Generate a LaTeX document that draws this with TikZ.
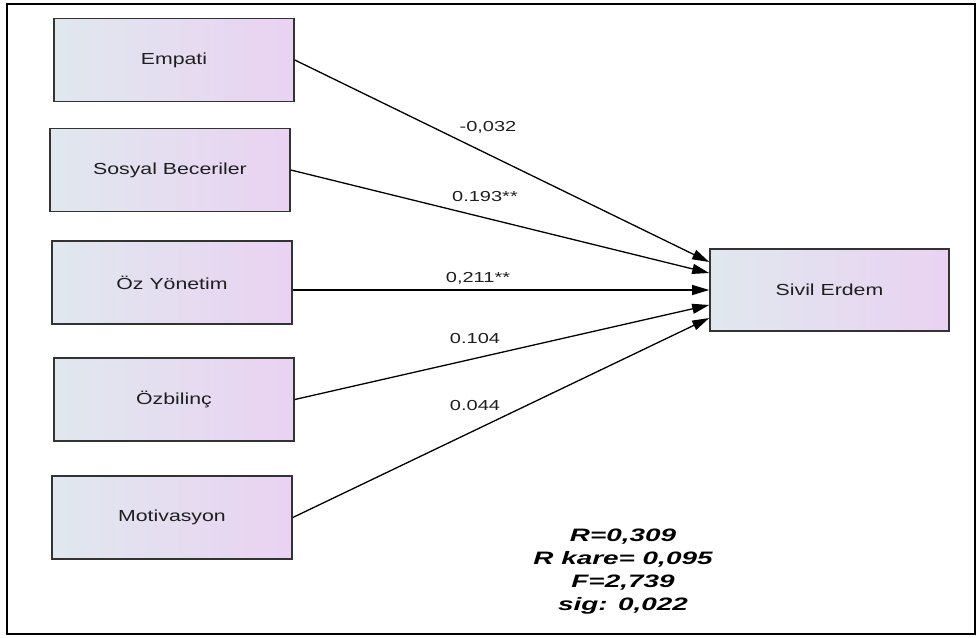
\documentclass[tikz,border=0pt]{standalone}
\usepackage{fontspec}
\setmainfont{Liberation Sans}
\newfontfamily\boxfont[FakeStretch=1.33]{Liberation Sans}
\newfontfamily\coeffont[FakeStretch=1.38]{Liberation Sans}
\newfontfamily\statfont[FakeStretch=1.55]{Liberation Sans}
\usetikzlibrary{arrows.meta}
\begin{document}
\begin{tikzpicture}[x=1pt,y=-1pt,
  var/.style={draw=black!80, line width=1.6pt, left color=leftc, right color=rightc,
    minimum width=240pt, minimum height=83pt, inner sep=0pt, font=\boxfont\fontsize{16}{18}\selectfont, text=black!88},
  path/.style={line width=1.3pt, -{Triangle[length=17pt,width=10pt]}},
  coef/.style={font=\coeffont\fontsize{14.5}{16}\selectfont, text=black!88, inner sep=0pt}]
\definecolor{leftc}{HTML}{E0E8EE}
\definecolor{rightc}{HTML}{EAD2F2}
\useasboundingbox (0,0) rectangle (976,637);
\draw[line width=2pt] (7,4) rectangle (975,634);
\node[var] (emp) at (174,60) {Empati};
\node[var] (sos) at (170,170) {Sosyal Beceriler};
\node[var] (oz) at (172,282.5) {Öz Yönetim};
\node[var] (ozb) at (174,399.5) {Özbilinç};
\node[var] (mot) at (172,517.5) {Motivasyon};
\node[var, minimum width=239pt, minimum height=82pt] (se) at (829.5,290) {Sivil Erdem};
\draw[path] (emp.east) -- ([yshift=28pt]se.west);
\draw[path] (sos.east) -- ([yshift=17pt]se.west);
\draw[path] (oz.east |- se.west) -- (se.west);
\draw[path] (ozb.east) -- ([yshift=-15pt]se.west);
\draw[path] (mot.east) -- ([yshift=-28pt]se.west);
\node[coef] (c1) at (488,127) {-0,032};
\node[coef] (c2) at (485,197) {0.193**};
\node[coef] (c3) at (478,278) {0,211**};
\node[coef] (c4) at (475,339) {0.104};
\node[coef] (c5) at (475,406) {0.044};
\node[align=center, font=\statfont\fontsize{18}{23}\selectfont\bfseries\itshape, inner sep=0pt] (stats) at (623,572)
  {R=0,309\\R kare= 0,095\\F=2,739\\sig: 0,022};
\end{tikzpicture}
\end{document}
